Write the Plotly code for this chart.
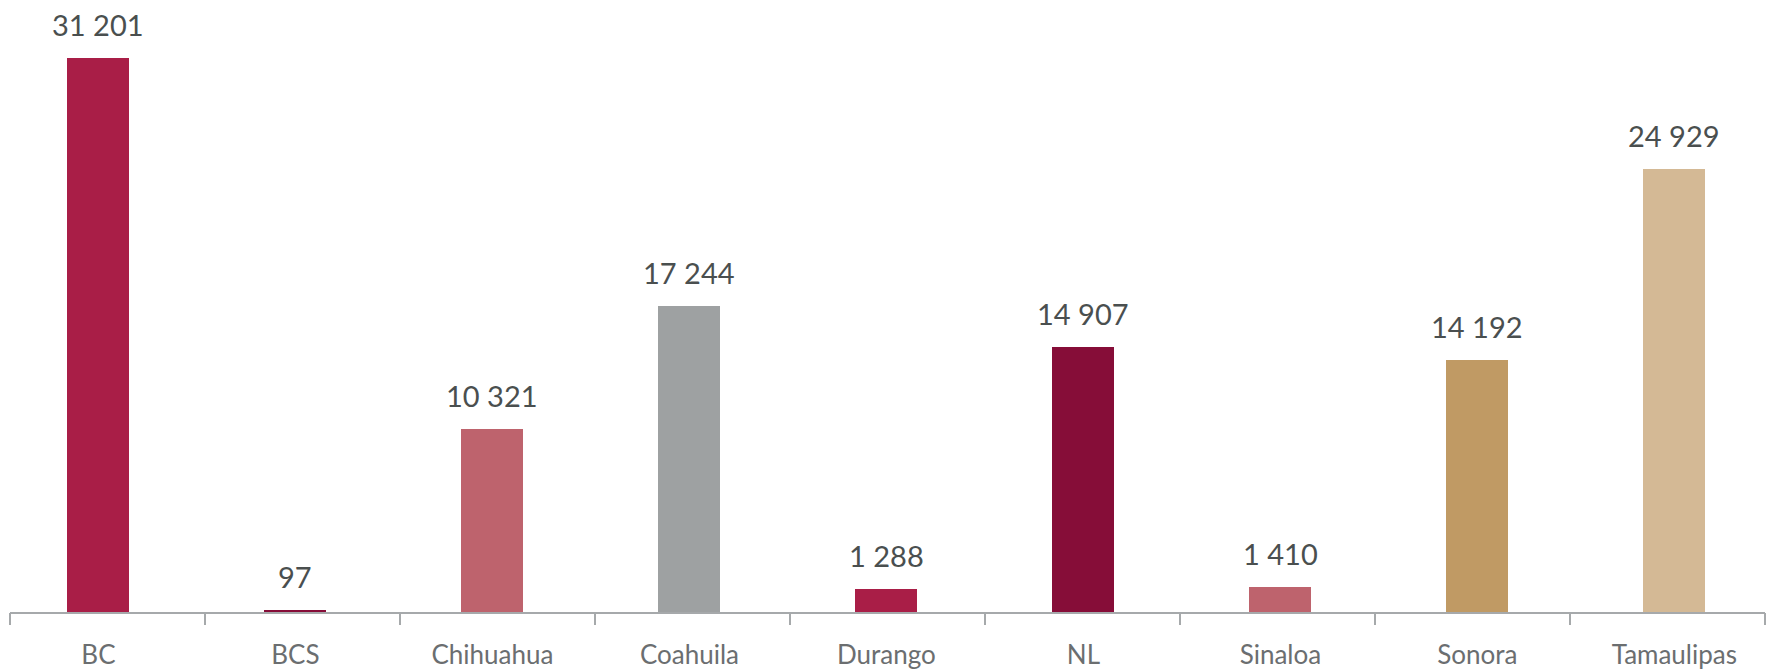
import plotly.graph_objects as go

states = ["BC", "BCS", "Chihuahua", "Coahuila", "Durango", "NL", "Sinaloa", "Sonora", "Tamaulipas"]
values = [31201, 97, 10321, 17244, 1288, 14907, 1410, 14192, 24929]
colors = ["#A91E47", "#860D38", "#BE636D", "#9EA1A2", "#A91E47", "#860D38", "#BE636D", "#C09A64", "#D4B995"]
tick_positions = list(range(len(states) + 1))

def fmt(v):
    return f"{v:,}".replace(",", " ")

fig = go.Figure()
fig.add_trace(go.Bar(x=states, y=values, marker=dict(color=colors, line=dict(width=0)),
                     width=0.315, hoverinfo="x+y", showlegend=False))
# carrier for the category-boundary tick marks
fig.add_trace(go.Scatter(x=[tick_positions[0], tick_positions[-1]], y=[0, 0], xaxis="x2",
                         mode="markers", marker=dict(opacity=0), hoverinfo="skip", showlegend=False))

for s, v in zip(states, values):
    fig.add_annotation(x=s, y=v, text=fmt(v), showarrow=False, yanchor="bottom",
                       yshift=14, font=dict(family="Lato", size=29, color="#4A4F4F"))

fig.update_layout(
    width=1767, height=672,
    margin=dict(l=10, r=2, t=26, b=60),
    paper_bgcolor="white", plot_bgcolor="white",
    bargap=0,
    xaxis=dict(type="category", range=[-0.449, 8.460], showline=True, linecolor="#A6A9AB",
               linewidth=1.5, ticks="", showgrid=False, zeroline=False,
               tickfont=dict(family="Lato", size=26, color="#6B6E70"), ticklabelstandoff=19),
    xaxis2=dict(overlaying="x", anchor="y", range=[0, 9], tickvals=tick_positions,
                ticks="outside", ticklen=12, tickwidth=1.5, tickcolor="#A6A9AB",
                showticklabels=False, showline=False, showgrid=False, zeroline=False),
    yaxis=dict(range=[0, 33000], visible=False),
)

fig.write_html("out.html", config={"displayModeBar": False},
               post_script="document.body.style.margin='0';")
